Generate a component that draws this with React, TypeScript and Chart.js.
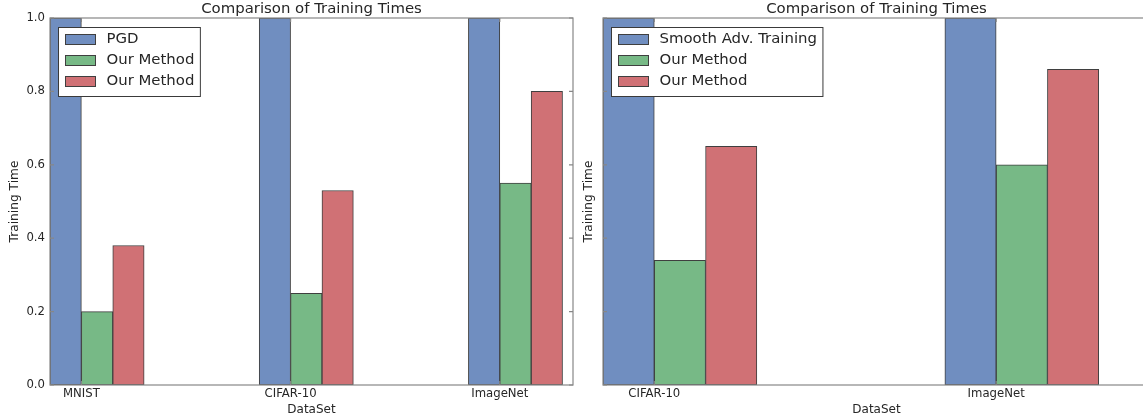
import React, { useEffect, useRef } from "react";
import { Chart, registerables } from "chart.js";

Chart.register(...registerables);

// ---------- data ----------
const LEFT_CATEGORIES = ["MNIST", "CIFAR-10", "ImageNet"];
const LEFT_LEGEND = ["PGD", "Our Method", "Our Method"];
const PGD_TIMES = [1.0, 1.0, 1.0];
const LEFT_OUR_GREEN = [0.2, 0.25, 0.55];
const LEFT_OUR_RED = [0.38, 0.53, 0.8];

const RIGHT_CATEGORIES = ["CIFAR-10", "ImageNet"];
const RIGHT_LEGEND = ["Smooth Adv. Training", "Our Method", "Our Method"];
const SMOOTH_TIMES = [1.0, 1.0];
const RIGHT_OUR_GREEN = [0.34, 0.6];
const RIGHT_OUR_RED = [0.65, 0.86];

const Y_TICKS = [0, 0.2, 0.4, 0.6, 0.8, 1.0];
const BAR_WIDTH = 0.15;
const BAR_OFFSETS = [-0.5, 0.5, 1.5];
const TITLE = "Comparison of Training Times";
const X_LABEL = "DataSet";
const Y_LABEL = "Training Time";

// ---------- style ----------
const FONT = '"DejaVu Sans", "Noto Sans", sans-serif';
const TEXT = "#262626";
const SPINE = "#878787";
const EDGE = "#3f3f3f";
const COLORS = ["#708EC0", "#77B986", "#D07175"];
const BIG = 14.9;

type Panel = {
  categories: string[];
  series: number[][];
  legend: string[];
  xMin: number;
  xMax: number;
  yAxisWidth: number;
  yTitlePad: number;
  showYTickLabels: boolean;
  padRight: number;
};

const decorPlugin = {
  id: "panelDecor",
  afterDatasetsDraw(chart: any) {
    const { ctx, chartArea: a } = chart;
    const xs = chart.scales.x;
    const ys = chart.scales.y;
    ctx.save();
    // spines
    ctx.strokeStyle = SPINE;
    ctx.lineWidth = 1.2;
    ctx.strokeRect(a.left, a.top, a.right - a.left, a.bottom - a.top);
    // inward ticks
    ctx.beginPath();
    ys.ticks.forEach((t: any) => {
      const py = ys.getPixelForValue(t.value);
      ctx.moveTo(a.left, py);
      ctx.lineTo(a.left + 4, py);
      ctx.moveTo(a.right, py);
      ctx.lineTo(a.right - 4, py);
    });
    xs.ticks.forEach((t: any) => {
      const px = xs.getPixelForValue(t.value);
      ctx.moveTo(px, a.bottom);
      ctx.lineTo(px, a.bottom - 4);
      ctx.moveTo(px, a.top);
      ctx.lineTo(px, a.top + 4);
    });
    ctx.stroke();

    // title
    ctx.fillStyle = TEXT;
    ctx.font = `${BIG}px ${FONT}`;
    ctx.textAlign = "center";
    ctx.textBaseline = "middle";
    ctx.fillText(TITLE, (a.left + a.right) / 2, a.top - 8.5);

    // legend
    const ds = chart.data.datasets;
    ctx.font = `${BIG}px ${FONT}`;
    let textW = 0;
    ds.forEach((d: any) => {
      textW = Math.max(textW, ctx.measureText(d.label).width);
    });
    const x0 = a.left + 8;
    const y0 = a.top + 9;
    const w = 7 + 30 + 11.5 + textW + 5.5;
    const h = 69;
    ctx.fillStyle = "#ffffff";
    ctx.fillRect(x0, y0, w, h);
    ctx.strokeStyle = "#3a3a3a";
    ctx.lineWidth = 1;
    ctx.strokeRect(x0 + 0.5, y0 + 0.5, w, h);
    ds.forEach((d: any, i: number) => {
      const cy = y0 + 12 + 21 * i;
      ctx.fillStyle = d.backgroundColor;
      ctx.fillRect(x0 + 7, cy - 5, 30, 10);
      ctx.strokeStyle = EDGE;
      ctx.strokeRect(x0 + 7.5, cy - 4.5, 30, 10);
      ctx.fillStyle = TEXT;
      ctx.textAlign = "left";
      ctx.textBaseline = "middle";
      ctx.fillText(d.label, x0 + 7 + 30 + 11.5, cy);
    });
    ctx.restore();
  },
};

function buildConfig(p: Panel): any {
  const datasets = p.series.map((vals, s) => ({
    label: p.legend[s],
    data: vals.map((v, i) => ({ x: i + BAR_OFFSETS[s] * BAR_WIDTH, y: v })),
    backgroundColor: COLORS[s],
    borderColor: EDGE,
    borderWidth: 1,
    borderSkipped: false,
    grouped: false,
    barPercentage: 1,
    categoryPercentage: 1,
  }));
  const tickFont = { family: FONT, size: 11.7 };
  const labelFont = { family: FONT, size: 12.2 };
  return {
    type: "bar",
    data: { datasets },
    options: {
      responsive: false,
      animation: false,
      events: [],
      layout: { padding: { top: 18, right: p.padRight, left: 0, bottom: 0 } },
      plugins: {
        legend: { display: false },
        tooltip: { enabled: false },
        title: { display: false },
      },
      scales: {
        x: {
          type: "linear",
          min: p.xMin,
          max: p.xMax,
          offset: false,
          grid: { display: false, drawTicks: false, offset: false },
          border: { display: false },
          afterBuildTicks: (s: any) => {
            s.ticks = p.categories.map((_, i) => ({ value: i }));
          },
          afterFit: (s: any) => {
            s.height = 32;
          },
          ticks: {
            autoSkip: false,
            maxRotation: 0,
            padding: 2,
            color: TEXT,
            font: tickFont,
            callback: (v: any) => p.categories[Math.round(Number(v))] ?? "",
          },
          title: {
            display: true,
            text: X_LABEL,
            color: TEXT,
            font: { family: FONT, size: 12 },
            padding: { top: 0, bottom: 0 },
          },
        },
        y: {
          min: 0,
          max: 1,
          grid: { display: false, drawTicks: false },
          border: { display: false },
          afterBuildTicks: (s: any) => {
            s.ticks = Y_TICKS.map((v) => ({ value: v }));
          },
          afterFit: (s: any) => {
            s.width = p.yAxisWidth;
          },
          ticks: {
            display: p.showYTickLabels,
            padding: 5,
            color: TEXT,
            font: tickFont,
            callback: (v: any) => Number(v).toFixed(1),
          },
          title: {
            display: true,
            text: Y_LABEL,
            color: TEXT,
            font: labelFont,
            padding: { top: p.yTitlePad, bottom: 0 },
          },
        },
      },
    },
    plugins: [decorPlugin],
  };
}

const LEFT_PANEL: Panel = {
  categories: LEFT_CATEGORIES,
  series: [PGD_TIMES, LEFT_OUR_GREEN, LEFT_OUR_RED],
  legend: LEFT_LEGEND,
  xMin: -0.15,
  xMax: 2.35,
  yAxisWidth: 50,
  yTitlePad: 7.8,
  showYTickLabels: true,
  padRight: 7,
};

const RIGHT_PANEL: Panel = {
  categories: RIGHT_CATEGORIES,
  series: [SMOOTH_TIMES, RIGHT_OUR_GREEN, RIGHT_OUR_RED],
  legend: RIGHT_LEGEND,
  xMin: -0.15,
  xMax: 1.45,
  yAxisWidth: 23,
  yTitlePad: 2,
  showYTickLabels: false,
  padRight: 10,
};

function PanelChart({ panel, left, width }: { panel: Panel; left: number; width: number }) {
  const ref = useRef<HTMLCanvasElement | null>(null);
  useEffect(() => {
    if (!ref.current) return;
    const chart = new Chart(ref.current, buildConfig(panel));
    return () => chart.destroy();
  }, [panel]);
  return (
    <canvas
      ref={ref}
      width={width}
      height={417}
      style={{ position: "absolute", left, top: 0, width, height: 417 }}
    />
  );
}

export default function App() {
  return (
    <div
      style={{
        position: "absolute",
        left: 0,
        top: 0,
        width: 1143,
        height: 417,
        overflow: "hidden",
        background: "#ffffff",
      }}
    >
      <PanelChart panel={LEFT_PANEL} left={0} width={580} />
      <PanelChart panel={RIGHT_PANEL} left={580} width={580} />
    </div>
  );
}
